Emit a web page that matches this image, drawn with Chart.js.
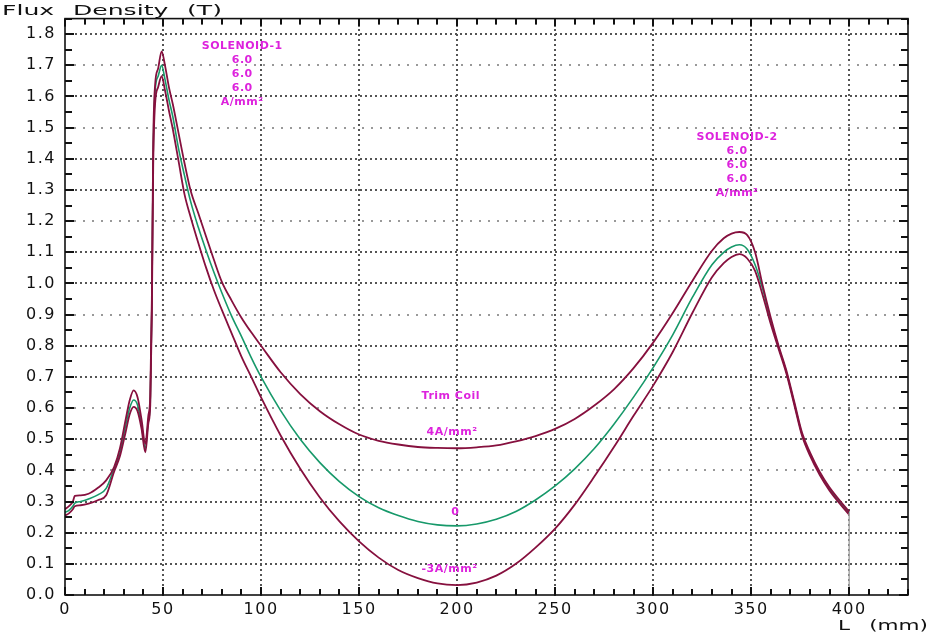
<!DOCTYPE html>
<html>
<head>
<meta charset="utf-8">
<title>Flux Density</title>
<script src="https://cdn.jsdelivr.net/npm/chart.js@4.4.1/dist/chart.umd.min.js"></script>
<style>
    html, body { margin: 0; padding: 0; background: #fff; }
    #wrap { width: 930px; height: 632px; }
</style>
</head>
<body>
<div id="wrap"><canvas id="fluxChart" width="930" height="632"></canvas></div>
<script>
// Position along the bore (mm)
const positions = [0, 2, 4, 5, 8, 12, 17, 21, 25, 28, 31, 33, 35, 37, 39, 41, 42.5, 43.5, 44.3, 45, 46, 47.5, 49.3, 51, 53, 55, 58, 61, 64, 68, 72, 76, 80, 85, 90, 95,
    100, 110, 120, 130, 140, 150, 160, 170, 180, 190, 200, 210, 220, 230, 240, 250, 260, 270, 280, 290, 300, 310, 320, 330, 336, 340, 344, 348, 352, 356, 360,
    364, 368, 372, 376, 380, 385, 390, 395, 400];

// Flux density (T), trim coil at +4 A/mm2
const fluxTrimPlus4 = [0.275, 0.285, 0.30, 0.318, 0.32, 0.325, 0.345, 0.368, 0.41, 0.47, 0.565, 0.625, 0.657, 0.635, 0.565, 0.485, 0.575, 0.64, 0.95, 1.45,
    1.64, 1.69, 1.745, 1.70, 1.63, 1.575, 1.48, 1.385, 1.30, 1.225, 1.15, 1.075, 1.005, 0.945, 0.89, 0.843,
    0.80, 0.715, 0.645, 0.59, 0.548, 0.515, 0.495, 0.483, 0.475, 0.472, 0.471, 0.474, 0.48, 0.493, 0.51, 0.533, 0.565, 0.608, 0.66, 0.728, 0.81, 0.905, 1.008, 1.105,
    1.145, 1.16, 1.165, 1.155, 1.10, 0.99, 0.89, 0.80, 0.72, 0.62, 0.52, 0.458, 0.395, 0.345, 0.305, 0.267];

// Flux density (T), trim coil off
const fluxTrimZero = [0.265, 0.272, 0.285, 0.295, 0.30, 0.308, 0.322, 0.342, 0.405, 0.455, 0.545, 0.60, 0.626, 0.61, 0.545, 0.47, 0.56, 0.62, 0.93, 1.42,
    1.62, 1.665, 1.70, 1.655, 1.59, 1.535, 1.43, 1.345, 1.265, 1.18, 1.105, 1.035, 0.97, 0.895, 0.83, 0.762,
    0.70, 0.592, 0.50, 0.425, 0.364, 0.316, 0.28, 0.255, 0.236, 0.225, 0.222, 0.228, 0.243, 0.268, 0.305, 0.35, 0.405, 0.47, 0.548, 0.635, 0.73, 0.835, 0.955, 1.06,
    1.10, 1.117, 1.124, 1.11, 1.06, 0.98, 0.88, 0.795, 0.715, 0.615, 0.515, 0.452, 0.39, 0.34, 0.30, 0.262];

// Flux density (T), trim coil at -3 A/mm2
const fluxTrimMinus3 = [0.255, 0.262, 0.275, 0.285, 0.288, 0.293, 0.305, 0.32, 0.395, 0.445, 0.525, 0.58, 0.604, 0.59, 0.535, 0.458, 0.55, 0.61, 0.90, 1.38,
    1.58, 1.63, 1.665, 1.62, 1.555, 1.495, 1.39, 1.285, 1.215, 1.13, 1.05, 0.978, 0.915, 0.84, 0.765, 0.70,
    0.634, 0.512, 0.405, 0.313, 0.236, 0.172, 0.12, 0.08, 0.054, 0.037, 0.032, 0.04, 0.062, 0.10, 0.152, 0.213, 0.29, 0.38, 0.475, 0.575, 0.672, 0.78, 0.905, 1.02,
    1.065, 1.085, 1.094, 1.08, 1.04, 0.96, 0.87, 0.79, 0.71, 0.61, 0.51, 0.447, 0.385, 0.335, 0.295, 0.258];

// End of the field map at 400 mm
const endLineX = [400, 400];
const endLineY = [0.262, 0];

// Grid rows drawn with a fainter dotting
const faintRows = [0.4, 0.6, 0.9, 1.2, 1.5, 1.7];

// Text notes, anchored in data units
const notes = [
    { x: 90.4, y: 1.762, lines: ['SOLENOID-1', '6.0', '6.0', '6.0', 'A/mm²'] },
    { x: 342.8, y: 1.471, lines: ['SOLENOID-2', '6.0', '6.0', '6.0', 'A/mm²'] },
    { x: 196.8, y: 0.639, lines: ['Trim Coil'] },
    { x: 197.4, y: 0.522, lines: ['4A/mm²'] },
    { x: 199.1, y: 0.266, lines: ['0'] },
    { x: 196.1, y: 0.083, lines: ['-3A/mm²'] }
];

const isFaint = v => faintRows.some(r => Math.abs(r - v) < 1e-6);

function toPoints(xs, ys) {
    return xs.map((x, i) => ({ x: x, y: ys[i] }));
}

// Stretched text, like the wide font of the original plot
function drawStretched(ctx, text, left, baseline, width) {
    const w = ctx.measureText(text).width;
    ctx.save();
    ctx.translate(left, baseline);
    ctx.scale(width / w, 1);
    ctx.fillText(text, 0, 0);
    ctx.restore();
}

// Dotted line made of small squares
function dotRow(ctx, x0, x1, y, step) {
    for (let px = x0; px <= x1; px += step) ctx.fillRect(px, y - 1, 2, 2);
}
function dotColumn(ctx, y0, y1, x, step) {
    for (let py = y0; py <= y1; py += step) ctx.fillRect(x - 1, py, 2, 2);
}

// Tick labels get a little extra spacing; reset before the curves are drawn
const spacingPlugin = {
    id: 'spacing',
    beforeDraw(chart) {
        chart.ctx.letterSpacing = '1.5px';
    },
    beforeDatasetsDraw(chart) {
        chart.ctx.letterSpacing = '0px';
    }
};

// Dotted grid at the scale ticks, under the curves
const gridPlugin = {
    id: 'dottedGrid',
    beforeDatasetsDraw(chart) {
        const { ctx, chartArea: a, scales: { x, y } } = chart;
        const l = Math.round(a.left), r = Math.round(a.right);
        const t = Math.round(a.top), b = Math.round(a.bottom);
        ctx.save();
        x.ticks.forEach(tk => {
            if (tk.value <= x.min || tk.value >= x.max) return;
            ctx.fillStyle = '#555';
            dotColumn(ctx, t, b, Math.round(x.getPixelForValue(tk.value)), 5);
        });
        y.ticks.forEach(tk => {
            if (tk.value <= y.min || tk.value >= y.max) return;
            const py = Math.round(y.getPixelForValue(tk.value));
            if (isFaint(tk.value)) {
                ctx.fillStyle = '#999';
                dotRow(ctx, l, r, py, 9);
            } else {
                ctx.fillStyle = '#555';
                dotRow(ctx, l, r, py, 5);
            }
        });
        ctx.restore();
    }
};

const notesPlugin = {
    id: 'notes',
    afterDatasetsDraw(chart) {
        const { ctx, scales: { x, y } } = chart;
        ctx.save();
        ctx.letterSpacing = '0.5px';
        ctx.font = 'bold 11px "DejaVu Sans"';
        ctx.fillStyle = '#dd22dd';
        ctx.textAlign = 'center';
        ctx.textBaseline = 'middle';
        notes.forEach(n => {
            const px = x.getPixelForValue(n.x);
            const py = y.getPixelForValue(n.y);
            n.lines.forEach((line, i) => ctx.fillText(line, px, py + i * 14));
        });
        ctx.restore();
    }
};

// Frame with inward tick marks on all four sides
const framePlugin = {
    id: 'frame',
    afterDraw(chart) {
        const { ctx, chartArea: a, scales: { x, y } } = chart;
        ctx.save();
        ctx.fillStyle = '#111';
        const nx = Math.round((x.max - x.min) / 10);
        for (let k = 0; k <= nx; k++) {
            const v = x.min + k * 10;
            const px = Math.round(x.getPixelForValue(v)) - 1;
            const len = v % 50 === 0 ? 8 : 6;
            ctx.fillRect(px, a.bottom - len, 2, len);
            ctx.fillRect(px, a.top, 2, len);
        }
        const ny = Math.round((y.max - y.min) / 0.05);
        for (let k = 0; k <= ny; k++) {
            const py = Math.round(y.getPixelForValue(y.min + k * 0.05)) - 1;
            const len = k % 2 === 0 ? 9 : 7;
            ctx.fillRect(a.left, py, len, 2);
            ctx.fillRect(a.right - len, py, len, 2);
        }
        ctx.strokeStyle = '#111';
        ctx.lineWidth = 1.6;
        ctx.strokeRect(a.left, a.top, a.right - a.left, a.bottom - a.top);

        // axis titles
        ctx.letterSpacing = '0px';
        ctx.wordSpacing = '6px';
        ctx.font = '14px "DejaVu Sans"';
        ctx.textAlign = 'left';
        ctx.textBaseline = 'alphabetic';
        drawStretched(ctx, 'Flux Density (T)', 2, 15, 220);
        ctx.wordSpacing = '8px';
        drawStretched(ctx, 'L (mm)', 838, 630, 90);
        ctx.restore();
    }
};

document.addEventListener('DOMContentLoaded', () => {
    const ctx = document.getElementById('fluxChart').getContext('2d');
    new Chart(ctx, {
        type: 'line',
        data: {
            datasets: [
                {
                    label: 'end',
                    data: toPoints(endLineX, endLineY),
                    borderColor: '#a8a8a8',
                    borderWidth: 1.5
                },
                {
                    label: '4A/mm²',
                    data: toPoints(positions, fluxTrimPlus4),
                    borderColor: '#86103e',
                    borderWidth: 1.8,
                    cubicInterpolationMode: 'monotone'
                },
                {
                    label: '-3A/mm²',
                    data: toPoints(positions, fluxTrimMinus3),
                    borderColor: '#86103e',
                    borderWidth: 1.8,
                    cubicInterpolationMode: 'monotone'
                },
                {
                    label: '0',
                    data: toPoints(positions, fluxTrimZero),
                    borderColor: '#17996a',
                    borderWidth: 1.6,
                    cubicInterpolationMode: 'monotone'
                }
            ]
        },
        options: {
            responsive: false,
            animation: false,
            devicePixelRatio: 1,
            layout: { padding: { top: 16, right: 22, left: 0, bottom: 0 } },
            elements: { point: { radius: 0 } },
            plugins: {
                legend: { display: false },
                tooltip: { enabled: false }
            },
            scales: {
                x: {
                    type: 'linear',
                    min: 0,
                    max: 430,
                    afterFit: scale => { scale.height = 37; },
                    border: { display: false },
                    grid: { display: false, drawTicks: false },
                    ticks: {
                        stepSize: 50,
                        includeBounds: false,
                        maxRotation: 0,
                        padding: 5,
                        color: '#111',
                        font: { family: 'DejaVu Sans', size: 16 },
                        callback: v => v <= 400 ? String(v) : ''
                    }
                },
                y: {
                    min: 0,
                    max: 1.85,
                    afterFit: scale => { scale.width = 65; },
                    border: { display: false },
                    grid: { display: false, drawTicks: false },
                    ticks: {
                        stepSize: 0.1,
                        includeBounds: false,
                        padding: 9,
                        color: '#111',
                        font: { family: 'DejaVu Sans', size: 16 },
                        callback: v => v.toFixed(1)
                    }
                }
            }
        },
        plugins: [spacingPlugin, gridPlugin, notesPlugin, framePlugin]
    });
});
</script>
</body>
</html>
